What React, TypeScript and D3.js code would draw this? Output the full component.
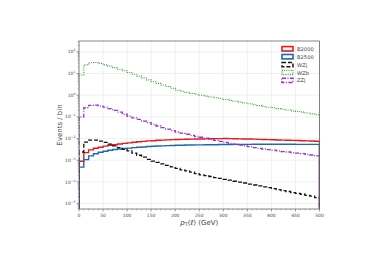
import React from "react";
import * as d3 from "d3";

// bin edges: 0..500 GeV in 10 GeV steps
const binEdges = d3.range(0, 510, 10);

const b2000 = [
  0.00089, 0.00224, 0.003, 0.00355, 0.004, 0.00447, 0.0049, 0.0052, 0.0056, 0.006,
  0.0063, 0.0068, 0.0071, 0.0074, 0.0078, 0.0079, 0.0083, 0.0085, 0.0087, 0.0089,
  0.0091, 0.0092, 0.0093, 0.0094, 0.0095, 0.0096, 0.0097, 0.0098, 0.0099, 0.0099,
  0.01, 0.0099, 0.0098, 0.0097, 0.0096, 0.0095, 0.0094, 0.0092, 0.0091, 0.0089,
  0.0088, 0.0086, 0.0085, 0.0083, 0.0082, 0.0081, 0.0079, 0.0078, 0.0077, 0.0075,
];

const b2500 = [
  0.00048, 0.00107, 0.00158, 0.002, 0.00234, 0.0026, 0.0029, 0.0031, 0.0033, 0.00347,
  0.0036, 0.0038, 0.004, 0.0041, 0.0043, 0.0044, 0.0045, 0.0046, 0.0047, 0.0048,
  0.0049, 0.0049, 0.005, 0.005, 0.0051, 0.0051, 0.0052, 0.0052, 0.0052, 0.0053,
  0.0053, 0.0053, 0.0054, 0.0054, 0.0054, 0.0054, 0.0055, 0.0055, 0.0055, 0.0055,
  0.0055, 0.0055, 0.0055, 0.0055, 0.0055, 0.0054, 0.0054, 0.0054, 0.0054, 0.0054,
];

const wzj = [
  0.0024, 0.0069, 0.0085, 0.0085, 0.0076, 0.0066, 0.0055, 0.0046, 0.0038, 0.0032,
  0.0027, 0.00214, 0.0017, 0.00138, 0.0011, 0.00091, 0.00079, 0.00068, 0.00058, 0.00049,
  0.00042, 0.00036, 0.00032, 0.00028, 0.00024, 0.00021, 0.000195, 0.000178, 0.000158, 0.000145,
  0.000132, 0.00012, 0.000107, 0.000098, 0.000089, 0.000079, 0.000072, 0.000066, 0.000059, 0.000054,
  0.000049, 0.000044, 0.00004, 0.000036, 0.000032, 0.0000295, 0.000027, 0.000024, 0.000022, 0.000019,
];

const wzb = [
  8.5, 25.1, 31.6, 32.4, 29.5, 25.1, 21.9, 18.6, 15.8, 13.5,
  11.2, 9.3, 7.6, 6.3, 5.1, 4.2, 3.5, 2.95, 2.5, 2.1,
  1.7, 1.51, 1.35, 1.2, 1.1, 1.0, 0.91, 0.83, 0.76, 0.69,
  0.63, 0.575, 0.525, 0.48, 0.435, 0.4, 0.36, 0.33, 0.3, 0.28,
  0.263, 0.24, 0.224, 0.209, 0.19, 0.178, 0.166, 0.151, 0.138, 0.126,
];

const zzj = [
  0.1, 0.263, 0.339, 0.347, 0.316, 0.282, 0.24, 0.2, 0.166, 0.132,
  0.107, 0.089, 0.076, 0.063, 0.054, 0.045, 0.038, 0.0316, 0.0275, 0.0234,
  0.02, 0.0178, 0.0158, 0.0141, 0.0126, 0.0115, 0.0105, 0.0093, 0.0083, 0.0074,
  0.0066, 0.006, 0.0055, 0.005, 0.0046, 0.0042, 0.0038, 0.00355, 0.0033, 0.0031,
  0.0029, 0.0027, 0.0025, 0.0024, 0.00224, 0.00214, 0.002, 0.00186, 0.00174, 0.00158,
];

const xTicks = [0, 50, 100, 150, 200, 250, 300, 350, 400, 450, 500];
const yExponents = [-5, -4, -3, -2, -1, 0, 1, 2];

const series = [
  { name: "B2000", values: b2000, color: "#e4191c", width: 1.4, dash: "none" },
  { name: "B2500", values: b2500, color: "#1f68b0", width: 1.4, dash: "none" },
  { name: "WZj", values: wzj, color: "#111111", width: 1.3, dash: "4,2" },
  { name: "WZb", values: wzb, color: "#3aa13a", width: 1.1, dash: "1,1.2" },
  { name: "ZZj", values: zzj, color: "#9a30c8", width: 1.3, dash: "4,1.5,1,1.5" },
];

const W = 381;
const H = 269;
const margin = { left: 79, right: 61.5, top: 41, bottom: 60 };

export default function App() {
  const x = d3
    .scaleLinear()
    .domain([0, 500])
    .range([margin.left, W - margin.right]);
  const y = d3
    .scaleLog()
    .domain([Math.pow(10, -5.25), Math.pow(10, 2.5)])
    .range([H - margin.bottom, margin.top])
    .clamp(true);

  const yBottom = y.domain()[0];
  const line = d3
    .line<[number, number]>()
    .x((d) => x(d[0]))
    .y((d) => y(d[1]))
    .curve(d3.curveStepAfter);

  const histPath = (vals: number[]) => {
    const pts: [number, number][] = [[0, yBottom]];
    vals.forEach((v, i) => pts.push([binEdges[i], v]));
    pts.push([500, vals[vals.length - 1]]);
    pts.push([500, yBottom]);
    return line(pts) || "";
  };

  const minorX = d3.range(0, 501, 10).filter((v) => v % 50 !== 0);
  const minorY: number[] = [];
  for (let e = -6; e <= 2; e++) {
    for (let k = 2; k <= 9; k++) {
      const v = k * Math.pow(10, e);
      if (v > y.domain()[0] && v < y.domain()[1]) minorY.push(v);
    }
  }

  const x0 = margin.left;
  const x1 = W - margin.right;
  const y0 = H - margin.bottom;
  const y1 = margin.top;
  const font = "DejaVu Sans, sans-serif";
  const textColor = "#444";

  return (
    <svg width={W} height={H} style={{ position: "absolute", left: 0, top: 0 }}>
      <rect width={W} height={H} fill="white" />
      {/* grid */}
      {xTicks.map((t) => (
        <line key={"gx" + t} x1={x(t)} x2={x(t)} y1={y0} y2={y1} stroke="#e6e6e6" strokeWidth={0.6} />
      ))}
      {yExponents.map((e) => (
        <line key={"gy" + e} x1={x0} x2={x1} y1={y(Math.pow(10, e))} y2={y(Math.pow(10, e))} stroke="#e6e6e6" strokeWidth={0.6} />
      ))}

      {/* histograms */}
      <defs>
        <clipPath id="plotArea">
          <rect x={x0} y={y1} width={x1 - x0} height={y0 - y1} />
        </clipPath>
      </defs>
      <g clipPath="url(#plotArea)">
        {series.map((s) => (
          <path
            key={s.name}
            d={histPath(s.values)}
            fill="none"
            stroke={s.color}
            strokeWidth={s.width}
            strokeDasharray={s.dash}
          />
        ))}
      </g>

      {/* frame */}
      <rect x={x0} y={y1} width={x1 - x0} height={y0 - y1} fill="none" stroke="#555" strokeWidth={0.7} />

      {/* x ticks */}
      {xTicks.map((t) => (
        <g key={"xt" + t}>
          <line x1={x(t)} x2={x(t)} y1={y0} y2={y0 + 2.5} stroke="#555" strokeWidth={0.6} />
          <text x={x(t)} y={y0 + 7.5} fontSize={4.5} fontFamily={font} textAnchor="middle" fill={textColor}>
            {t}
          </text>
        </g>
      ))}
      {minorX.map((t) => (
        <line key={"xm" + t} x1={x(t)} x2={x(t)} y1={y0} y2={y0 + 1.4} stroke="#555" strokeWidth={0.4} />
      ))}

      {/* y ticks */}
      {yExponents.map((e) => {
        const yy = y(Math.pow(10, e));
        return (
          <g key={"yt" + e}>
            <line x1={x0 - 2.5} x2={x0} y1={yy} y2={yy} stroke="#555" strokeWidth={0.6} />
            <text x={x0 - 3.5} y={yy + 1.6} fontSize={4.5} fontFamily={font} textAnchor="end" fill={textColor}>
              10
              <tspan dy={-2} fontSize={3.2}>
                {e < 0 ? "\u2212" + Math.abs(e) : String(e)}
              </tspan>
            </text>
          </g>
        );
      })}
      {minorY.map((v, i) => (
        <line key={"ym" + i} x1={x0 - 1.4} x2={x0} y1={y(v)} y2={y(v)} stroke="#555" strokeWidth={0.4} />
      ))}

      {/* axis labels */}
      <text
        transform={`translate(${62},${(y0 + y1) / 2}) rotate(-90)`}
        fontSize={7}
        fontFamily={font}
        textAnchor="middle"
        fill={textColor}
      >
        Events / bin
      </text>
      <text x={(x0 + x1) / 2} y={y0 + 15.5} fontSize={7} fontFamily={font} textAnchor="middle" fill={textColor}>
        <tspan fontStyle="italic">p</tspan>
        <tspan fontSize={4.8} dy={1.5}>T</tspan>
        <tspan dy={-1.5}>(</tspan>
        <tspan fontStyle="italic">ℓ</tspan>
        <tspan>) (GeV)</tspan>
      </text>

      {/* legend */}
      {series.map((s, i) => {
        const ly = 49 + i * 7.9;
        return (
          <g key={"lg" + s.name}>
            <rect
              x={282}
              y={ly - 2.4}
              width={11}
              height={4.4}
              fill="none"
              stroke={s.color}
              strokeWidth={s.width + 0.2}
              strokeDasharray={s.dash}
            />
            <text x={297} y={ly + 1.8} fontSize={5.2} fontFamily={font} fill={textColor}>
              {s.name}
            </text>
          </g>
        );
      })}
    </svg>
  );
}
